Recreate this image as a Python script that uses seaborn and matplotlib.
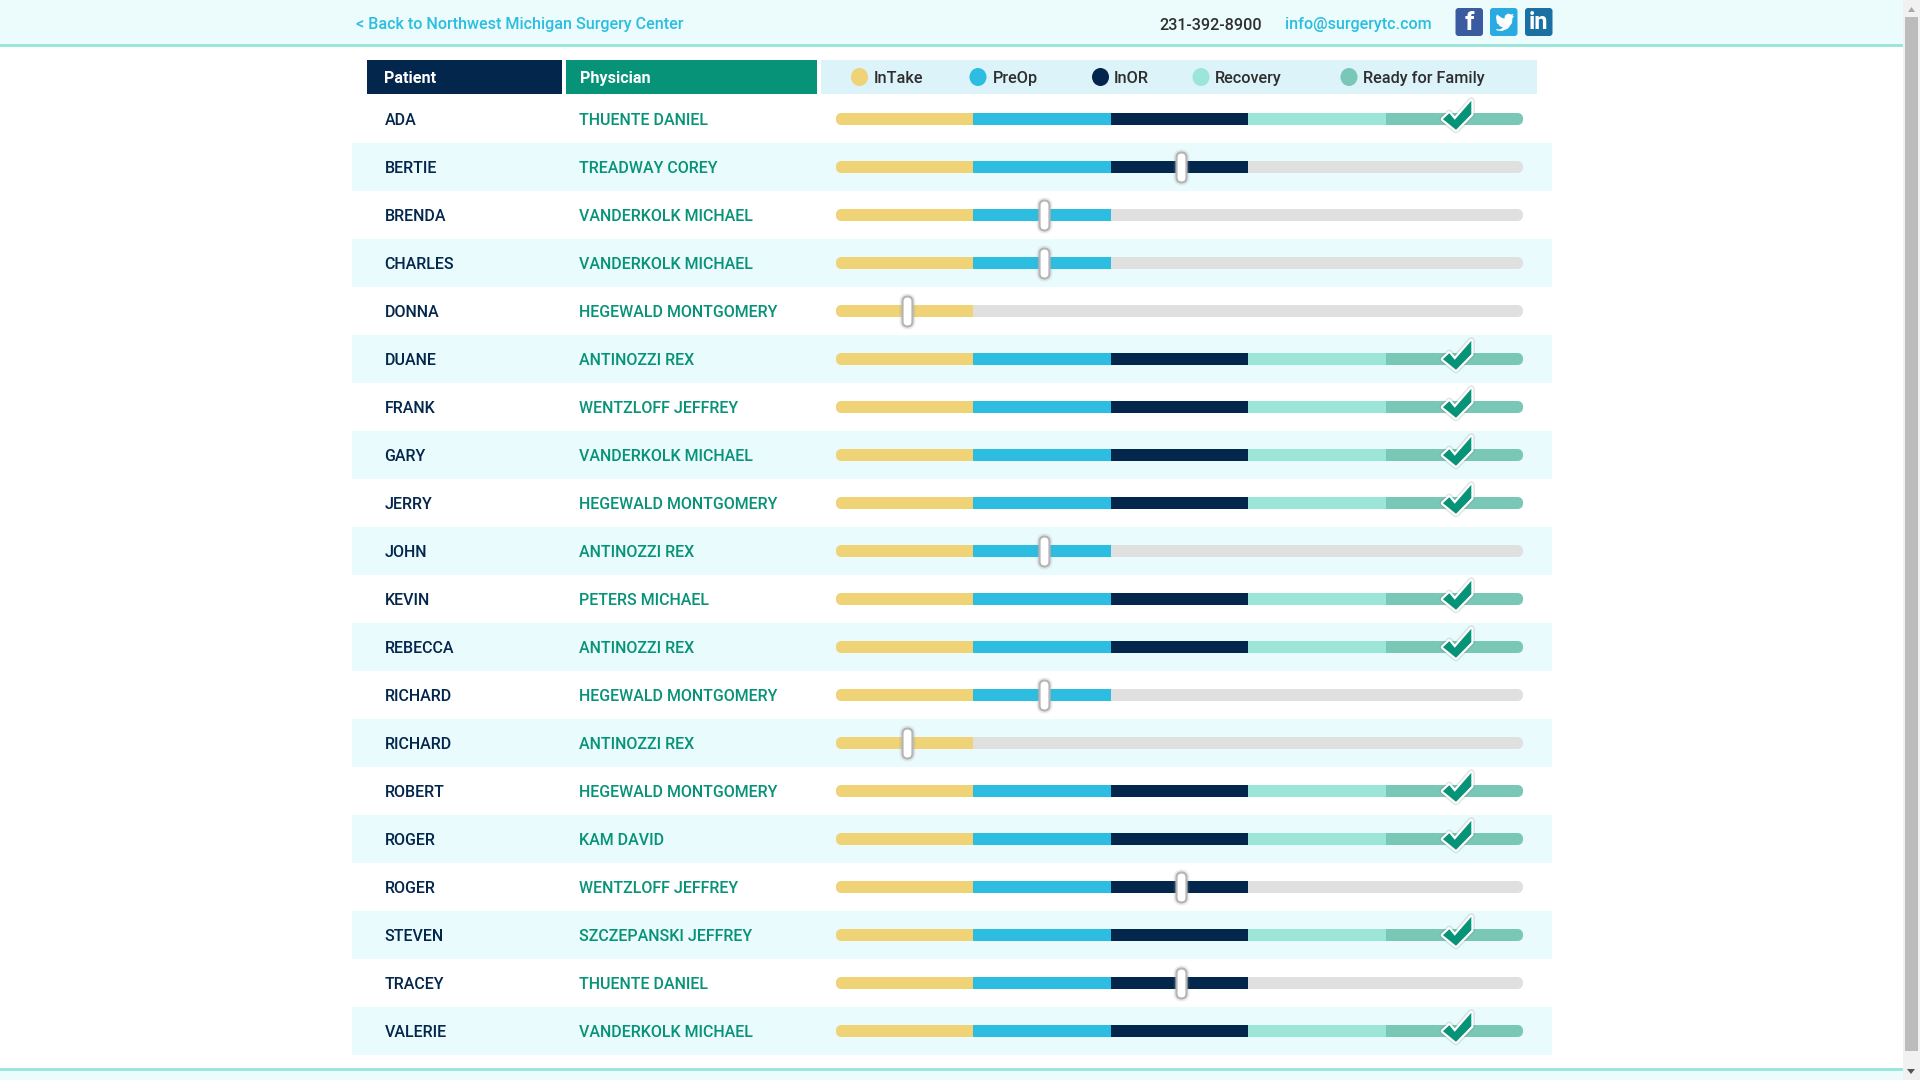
import numpy as np
import pandas as pd
import seaborn as sns
import matplotlib
matplotlib.use("Agg")
import matplotlib.pyplot as plt
from matplotlib.patches import Rectangle, FancyBboxPatch, Ellipse, Polygon
from matplotlib.path import Path

patients = ["ADA", "BERTIE", "BRENDA", "CHARLES", "DONNA", "DUANE", "FRANK", "GARY", "JERRY", "JOHN",
            "KEVIN", "REBECCA", "RICHARD", "RICHARD", "ROBERT", "ROGER", "ROGER", "STEVEN", "TRACEY", "VALERIE"]
physicians = ["THUENTE DANIEL", "TREADWAY COREY", "VANDERKOLK MICHAEL", "VANDERKOLK MICHAEL",
              "HEGEWALD MONTGOMERY", "ANTINOZZI REX", "WENTZLOFF JEFFREY", "VANDERKOLK MICHAEL",
              "HEGEWALD MONTGOMERY", "ANTINOZZI REX", "PETERS MICHAEL", "ANTINOZZI REX",
              "HEGEWALD MONTGOMERY", "ANTINOZZI REX", "HEGEWALD MONTGOMERY", "KAM DAVID",
              "WENTZLOFF JEFFREY", "SZCZEPANSKI JEFFREY", "THUENTE DANIEL", "VANDERKOLK MICHAEL"]
stages_done = [5, 3, 2, 2, 1, 5, 5, 5, 5, 2, 5, 5, 2, 1, 5, 5, 3, 5, 3, 5]
stages = ["InTake", "PreOp", "InOR", "Recovery", "Ready for Family"]
stage_colors = ["#EFD376", "#2CBDE0", "#03264C", "#9BE6D8", "#79C7B7"]
legend_dot_x = [859.5, 978, 1100.5, 1201, 1349]
legend_txt_x = [873.5, 992.5, 1114, 1214.5, 1363]

NAVY, GREEN, TXT, LINK = "#03264C", "#079377", "#2E2E2E", "#2CBDE0"
LINE, BAND, STRIPE, LEGBG, GREY = "#9BE6D8", "#ECFCFC", "#EAFBFE", "#DBF3F9", "#E0E0E0"
PX = 72 / 100  # points per pixel

sns.set_theme(style="white")
plt.rcParams["font.family"] = ["Roboto", "DejaVu Sans"]
fig = plt.figure(figsize=(19.2, 10.8), dpi=100, facecolor="white")
bg = fig.add_axes([0, 0, 1, 1], zorder=0)
bg.set_xlim(0, 1920); bg.set_ylim(1080, 0); bg.set_axis_off()


def rect(x0, y0, x1, y1, c):
    bg.add_patch(Rectangle((x0, y0), x1 - x0, y1 - y0, fc=c, ec="none"))


def label(x, y, s, c, size=11.6, weight=500, **kw):
    bg.text(x, y, s, color=c, fontsize=size, fontweight=weight, va="center_baseline", ha=kw.pop("ha", "left"), **kw)


# page chrome
rect(0, 0, 1903, 44, BAND); rect(0, 44, 1903, 47, LINE)
rect(0, 1068, 1903, 1071, LINE); rect(0, 1071, 1903, 1080, BAND)
rect(1903, 0, 1920, 1080, "#F1F1F1"); rect(1905, 17, 1918, 1051, "#BCBCBC")
bg.add_patch(Polygon([[1908, 12], [1915, 12], [1911.5, 7]], fc="#A8A8A8", ec="none"))
bg.add_patch(Polygon([[1907, 1069], [1915, 1069], [1911, 1074]], fc="#555555", ec="none"))

label(356, 23.5, "< Back to Northwest Michigan Surgery Center", LINK)
label(1159, 23.5, "231-392-8900", TXT)
label(1284.5, 23.5, "info@surgerytc.com", LINK)

# social icons
for x0, c in [(1455.5, "#3A5BA0"), (1490, "#29ABE2"), (1525, "#1A6FA3")]:
    bg.add_patch(FancyBboxPatch((x0, 8), 27.5, 28, boxstyle="round,pad=0,rounding_size=3", fc=c, ec="none"))
bg.text(1469.5, 23, "f", color="white", fontsize=19, fontweight="bold", ha="center", va="center")
bg.text(1539, 22.5, "in", color="white", fontsize=17, fontweight="bold", ha="center", va="center")
bird = np.array([[1496, 29], [1500, 29.5], [1503, 27.5], [1499.5, 26], [1498.5, 24], [1497, 23.5], [1496.5, 20],
                 [1496, 17], [1497, 14.5], [1502, 18], [1504.5, 18.5], [1505, 15.5], [1508, 13.5], [1511, 14.5],
                 [1513.5, 14], [1512.5, 16], [1514, 16], [1512.5, 18], [1512, 23], [1508, 28.5], [1502, 31], [1497, 30.5]])
bg.add_patch(Polygon(bird, fc="white", ec="none"))

# table header
rect(367, 60, 562, 94, NAVY); rect(566, 60, 817, 94, GREEN); rect(821, 60, 1537, 94, LEGBG)
label(384, 77, "Patient", "white", weight=700)
label(580, 77, "Physician", "white", weight=700)
for s, c, dx, tx in zip(stages, stage_colors, legend_dot_x, legend_txt_x):
    bg.add_patch(Ellipse((dx, 77), 17, 18, fc=c, ec="none"))
    label(tx, 77, s, TXT, size=11.7)

# rows
ROW0, ROWH = 119, 48
for i, (pat, doc) in enumerate(zip(patients, physicians)):
    yc = ROW0 + i * ROWH
    if i % 2:
        rect(352, yc - 24, 1552, yc + 24, STRIPE)
    label(384.5, yc, pat, NAVY, size=11.55)
    label(579, yc, doc, GREEN, size=11.55)

# progress chart: x axis runs over the five stages, one unit each
ax = fig.add_axes([836 / 1920, (1080 - 1055) / 1080, 687 / 1920, 960 / 1080], zorder=1)
ax.patch.set_alpha(0)
rows = np.arange(len(patients))
done = np.array(stages_done)
df = pd.DataFrame({"row": rows, "done": done})

sns.barplot(data=df, y="row", x=np.full(len(rows), len(stages)), orient="h", color=GREY, saturation=1,
            width=0.25, errorbar=None, linewidth=0, ax=ax)
for k, c in enumerate(stage_colors):
    w = (done > k).astype(float)
    sns.barplot(data=df, y="row", x=w, orient="h", color=c, saturation=1, left=k,
                width=0.25, errorbar=None, linewidth=0, ax=ax)
ax.set_xlim(0, len(stages)); ax.set_ylim(len(rows) - 0.5, -0.5); ax.set_axis_off()

# round the ends of every track
for p in ax.patches:
    r = int(round(p.get_y() + p.get_height() / 2))
    yc = ROW0 + r * ROWH
    clip = FancyBboxPatch((836, yc - 6), 687, 12, boxstyle="round,pad=0,rounding_size=6", transform=bg.transData)
    p.set_clip_path(clip.get_path(), clip.get_transform())

# slider handles (in progress) and check marks (complete), at about the middle of the current stage
pos = done - 0.486
live = done < len(stages)
hb = FancyBboxPatch((-5, -15), 10, 30, boxstyle="round,pad=0,rounding_size=5")
handle = Path(hb.get_path().vertices.copy(), hb.get_path().codes.copy())
hs = 30 * PX
ax.plot(pos[live], rows[live], ls="none", marker=handle, ms=hs, mfc="#999999", mec="#999999", mew=6 * PX,
        alpha=0.18, clip_on=False, zorder=5)
ax.plot(pos[live], rows[live], ls="none", marker=handle, ms=hs, mfc="white", mec="#B5B5B5", mew=2.2 * PX,
        clip_on=False, zorder=6)

pos_c = done - 0.49
check = Path(np.array([[14.8, 18.7], [14.8, 5.3], [-0.5, -10.3], [-13.5, 0.3], [-7.2, 6.3], [-1.8, -0.3], [14.8, 18.7]]),
             closed=True)
cs = 37.4 * PX
ax.plot(pos_c[~live], rows[~live], ls="none", marker=check, ms=cs, mfc="#777777", mec="#777777", mew=7 * PX,
        alpha=0.22, clip_on=False, zorder=5)
ax.plot(pos_c[~live], rows[~live], ls="none", marker=check, ms=cs, mfc="white", mec="white", mew=4.4 * PX,
        clip_on=False, zorder=6)
ax.plot(pos_c[~live], rows[~live], ls="none", marker=check, ms=cs, mfc=GREEN, mec="none",
        clip_on=False, zorder=7)

fig.savefig("out.png", dpi=100, facecolor="white")
